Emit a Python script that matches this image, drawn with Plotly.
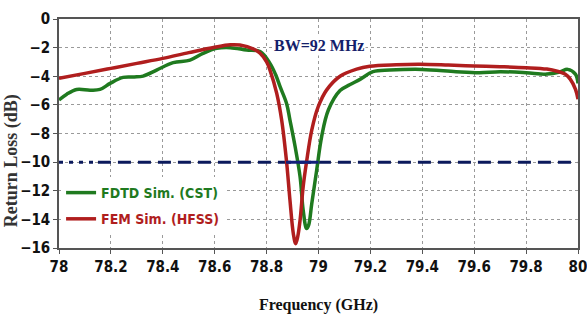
import plotly.graph_objects as go

# Red curve: FEM Sim. (HFSS)
fem_freq = [78.0, 78.1, 78.2, 78.3, 78.4, 78.5, 78.6, 78.66, 78.697, 78.75, 78.775, 78.8, 78.813,
            78.839, 78.858, 78.877, 78.89, 78.903, 78.912, 78.92, 78.929, 78.941, 78.954, 78.974,
            78.999, 79.031, 79.083, 79.147, 79.198, 79.3, 79.39, 79.5, 79.6, 79.7, 79.8, 79.88,
            79.92, 79.95, 79.97, 79.99, 80.0]
fem_db = [-4.15, -3.8, -3.45, -3.1, -2.75, -2.35, -1.97, -1.8, -1.82, -2.1, -2.4, -3.0, -3.57,
          -5.2, -7.06, -9.98, -12.66, -15.0, -15.7, -15.2, -14.05, -11.7, -9.98, -7.76,
          -6.13, -4.97, -4.0, -3.5, -3.3, -3.2, -3.17, -3.22, -3.28, -3.33, -3.4, -3.5,
          -3.65, -3.85, -4.2, -4.9, -5.6]

# Green curve: FDTD Sim. (CST)
fdtd_freq = [78.0, 78.03, 78.068, 78.12, 78.158, 78.197, 78.247, 78.29, 78.324, 78.376, 78.44,
             78.505, 78.555, 78.608, 78.66, 78.723, 78.775, 78.813, 78.835, 78.852, 78.877, 78.89,
             78.91, 78.929, 78.941, 78.954, 78.962, 78.974, 78.993, 79.012, 79.038, 79.083,
             79.12, 79.16, 79.21, 79.275, 79.4, 79.53, 79.62, 79.7, 79.8, 79.88, 79.93, 79.96,
             79.99, 80.0]
fdtd_db = [-5.66, -5.25, -4.92, -4.97, -4.92, -4.5, -4.08, -4.05, -3.99, -3.57, -3.05,
           -2.87, -2.4, -2.05, -2.0, -2.17, -2.28, -3.1, -3.9, -4.73, -5.9, -7.06,
           -8.93, -11.03, -13.36, -14.64, -14.4, -12.9, -10.56, -8.23, -6.36, -5.0,
           -4.6, -4.22, -3.68, -3.57, -3.52, -3.68, -3.75, -3.68, -3.75, -3.85, -3.7, -3.52,
           -3.85, -4.5]

x_ticks = [78, 78.2, 78.4, 78.6, 78.8, 79, 79.2, 79.4, 79.6, 79.8, 80]
x_ticklabels = ["78", "78.2", "78.4", "78.6", "78.8", "79", "79.2", "79.4", "79.6", "79.8", "80"]
y_ticks = [0, -2, -4, -6, -8, -10, -12, -14, -16]

threshold_db = -10
threshold_dot_end = 78.15
bw_edges = [78.875, 79.0]
bw_label = "BW=92 MHz"

GREEN = "#1f7a1f"
RED = "#b01e1e"
NAVY = "#0b1a5c"
NARROW = "DejaVu Sans Condensed, Liberation Sans Narrow, Liberation Sans"

fig = go.Figure()

# -10 dB reference line
fig.add_trace(go.Scatter(x=[78, threshold_dot_end], y=[threshold_db, threshold_db], mode="lines",
                         line=dict(color=NAVY, width=3, dash="4px,6px"), showlegend=False,
                         hoverinfo="skip"))
fig.add_trace(go.Scatter(x=[threshold_dot_end, 80], y=[threshold_db, threshold_db], mode="lines",
                         line=dict(color=NAVY, width=3, dash="13px,7px"), showlegend=False,
                         hoverinfo="skip"))

fig.add_trace(go.Scatter(x=fdtd_freq, y=fdtd_db, mode="lines", line_shape="spline",
                         name="<span style='color:%s'>FDTD Sim. (CST)</span>" % GREEN,
                         legendgroup="fdtd", line=dict(color=GREEN, width=3.5)))
fig.add_trace(go.Scatter(x=fem_freq, y=fem_db, mode="lines", line_shape="spline",
                         name="<span style='color:%s'>FEM Sim. (HFSS)</span>" % RED,
                         legendgroup="fem", line=dict(color=RED, width=3.5)))

fig.add_trace(go.Scatter(x=bw_edges, y=[threshold_db, threshold_db], mode="lines",
                         line=dict(color="#12207a", width=3), showlegend=False, hoverinfo="skip"))

fig.add_annotation(x=79.0, y=-1.82, xref="x", yref="y", text=bw_label, showarrow=False,
                   font=dict(family="Liberation Serif", size=16, color="#14206a", weight="bold"),
                   bgcolor="white", xanchor="center", yanchor="middle")

# y-axis title placed like the reference (slightly below plot centre)
fig.add_annotation(x=-0.09, y=0.38, xref="paper", yref="paper", text="Return Loss (dB)",
                   showarrow=False, textangle=-90, xanchor="center", yanchor="middle",
                   font=dict(family="Liberation Serif", size=18, color="#333333", weight="bold"))

fig.update_layout(
    width=587, height=321,
    margin=dict(l=59, r=9, t=19, b=73),
    plot_bgcolor="white", paper_bgcolor="white",
    legend=dict(x=0.004, y=0.31, xanchor="left", yanchor="top", bgcolor="white",
                font=dict(family=NARROW, size=14, weight="bold"),
                itemwidth=30, tracegroupgap=5),
    showlegend=True,
)
fig.update_xaxes(range=[78, 80], tickvals=x_ticks, ticktext=x_ticklabels, automargin=False,
                 ticklabeloverflow="allow",
                 showgrid=True, gridcolor="#9a9a9a", griddash="dot", gridwidth=1,
                 showline=True, linecolor="#555555", linewidth=1.5, mirror=True,
                 ticks="outside", ticklen=4, tickcolor="#555555", zeroline=False,
                 tickfont=dict(family=NARROW, size=15, color="#111111", weight="bold"),
                 title=dict(text="Frequency (GHz)", standoff=24,
                            font=dict(family="Liberation Serif", size=16, color="#111111",
                                      weight="bold")))
fig.update_yaxes(range=[-16, 0], tickvals=y_ticks, automargin=False,
                 ticklabeloverflow="allow",
                 showgrid=True, gridcolor="#9a9a9a", griddash="dot", gridwidth=1,
                 showline=True, linecolor="#555555", linewidth=1.5, mirror=True,
                 ticks="outside", ticklen=4, tickcolor="#555555", zeroline=False,
                 tickfont=dict(family=NARROW, size=15, color="#111111", weight="bold"))

fig.write_html("out.html")
